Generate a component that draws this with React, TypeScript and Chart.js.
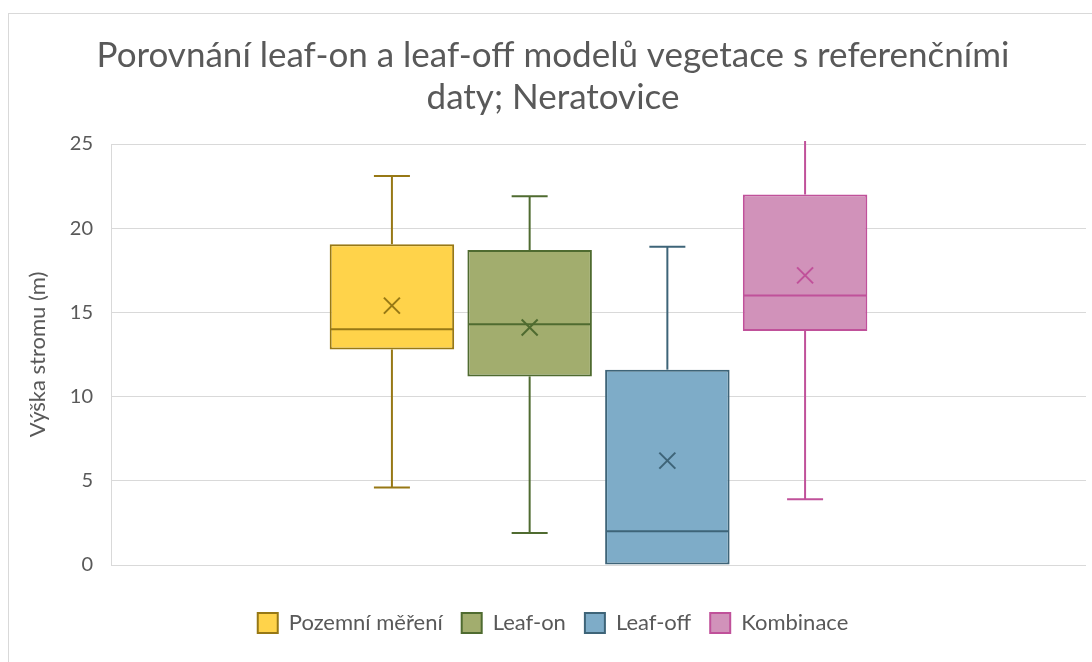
import React, { useEffect, useRef } from 'react';
import { Chart, registerables } from 'chart.js';

Chart.register(...registerables);

const categories = [''];
const seriesNames = ['Pozemní měření', 'Leaf-on', 'Leaf-off', 'Kombinace'];
const minValues = [4.6, 1.9, 0, 3.9];
const q1Values = [12.8, 11.2, 0, 13.9];
const medianValues = [14.0, 14.3, 2.0, 16.0];
const q3Values = [19.05, 18.7, 11.6, 22.0];
const maxValues = [23.1, 21.9, 18.9, 26.0];
const meanValues = [15.4, 14.1, 6.2, 17.2];
const fillColors = ['#FFD34A', '#A2AD6E', '#7EACC8', '#D192BA'];
const lineColors = ['#977815', '#4F6B30', '#3E6478', '#C0519A'];
const yTickValues = [0, 5, 10, 15, 20, 25];
const titleLines = ['Porovnání leaf-on a leaf-off modelů vegetace s referenčními', 'daty; Neratovice'];
const yAxisTitle = 'Výška stromu (m)';

const FONT = 'Lato, "Noto Sans", sans-serif';
const TEXT = '#595959';
const GRID = '#d9d9d9';

const boxPlugin = {
  id: 'boxWhisker',
  afterDatasetsDraw(chart: any) {
    const { ctx, chartArea } = chart;
    const y = chart.scales.y;
    ctx.save();
    ctx.beginPath();
    ctx.rect(chartArea.left, chartArea.top - 3, chartArea.right - chartArea.left, chartArea.bottom - chartArea.top + 6);
    ctx.clip();
    chart.data.datasets.forEach((_ds: any, i: number) => {
      const meta = chart.getDatasetMeta(i);
      if (!chart.isDatasetVisible(i)) return;
      const el = meta.data[0];
      if (!el) return;
      const x = el.x;
      const w = el.width;
      const yMin = y.getPixelForValue(minValues[i]);
      const yQ1 = y.getPixelForValue(q1Values[i]);
      const yMed = y.getPixelForValue(medianValues[i]);
      const yQ3 = y.getPixelForValue(q3Values[i]);
      const yMax = y.getPixelForValue(maxValues[i]);
      const yMean = y.getPixelForValue(meanValues[i]);
      ctx.strokeStyle = lineColors[i];
      ctx.lineWidth = 2;
      ctx.lineCap = 'butt';
      const line = (x1: number, y1: number, x2: number, y2: number) => {
        ctx.beginPath();
        ctx.moveTo(x1, y1);
        ctx.lineTo(x2, y2);
        ctx.stroke();
      };
      const cap = 18;
      if (maxValues[i] > q3Values[i]) {
        line(x, yQ3, x, yMax);
        if (maxValues[i] <= y.max) line(x - cap, yMax, x + cap, yMax);
      }
      if (minValues[i] < q1Values[i]) {
        line(x, yQ1, x, yMin);
        line(x - cap, yMin, x + cap, yMin);
      }
      line(x - w / 2 + 1, yMed, x + w / 2 - 1, yMed);
      const m = 8;
      line(x - m, yMean - m, x + m, yMean + m);
      line(x - m, yMean + m, x + m, yMean - m);
    });
    ctx.restore();
  },
};

export default function App() {
  const ref = useRef<HTMLCanvasElement | null>(null);

  useEffect(() => {
    if (!ref.current) return;
    const chart = new Chart(ref.current, {
      type: 'bar',
      data: {
        labels: categories,
        datasets: seriesNames.map((name, i) => ({
          label: name,
          data: [[q1Values[i], q3Values[i]]] as any,
          backgroundColor: fillColors[i],
          borderColor: lineColors[i],
          borderWidth: 2,
          borderSkipped: false,
          categoryPercentage: 0.565,
          barPercentage: 0.904,
        })),
      },
      options: {
        responsive: false,
        animation: false,
        layout: { padding: { left: 20, right: 6, top: 0, bottom: 18 } },
        plugins: {
          tooltip: { enabled: false },
          title: {
            display: true,
            text: titleLines,
            color: TEXT,
            font: { family: FONT, size: 35, weight: 'normal', lineHeight: 1.2 },
            padding: { top: 35, bottom: 25 },
          },
          legend: {
            position: 'bottom',
            labels: {
              color: TEXT,
              font: { family: FONT, size: 22 },
              boxWidth: 20,
              boxHeight: 20,
              padding: 19,
            },
          },
        },
        scales: {
          x: {
            display: true,
            ticks: { display: false },
            grid: { display: false },
            border: { display: false },
            afterFit: (s: any) => { s.height = 28; },
          },
          y: {
            min: 0,
            max: 25,
            afterBuildTicks: (s: any) => { s.ticks = yTickValues.map((v) => ({ value: v })); },
            ticks: {
              color: TEXT,
              font: { family: FONT, size: 20 },
              padding: 18,
            },
            grid: { color: GRID, lineWidth: 1, drawTicks: false },
            border: { display: true, color: GRID, width: 1 },
            title: {
              display: true,
              text: yAxisTitle,
              color: TEXT,
              font: { family: FONT, size: 22 },
              padding: { top: 5, bottom: 0 },
            },
            afterFit: (s: any) => { s.width = 91; },
          },
        },
      },
      plugins: [boxPlugin],
    });
    return () => chart.destroy();
  }, []);

  return (
    <div style={{ position: 'fixed', left: 0, top: 0, width: 1092, height: 662, background: '#fff', overflow: 'hidden' }}>
      <div
        style={{
          position: 'absolute',
          left: 8,
          top: 13,
          width: 1084,
          height: 649,
          borderLeft: `1px solid ${GRID}`,
          borderTop: `1px solid ${GRID}`,
          boxSizing: 'border-box',
        }}
      />
      <canvas ref={ref} width={1092} height={662} style={{ position: 'absolute', left: 0, top: 0 }} />
    </div>
  );
}
